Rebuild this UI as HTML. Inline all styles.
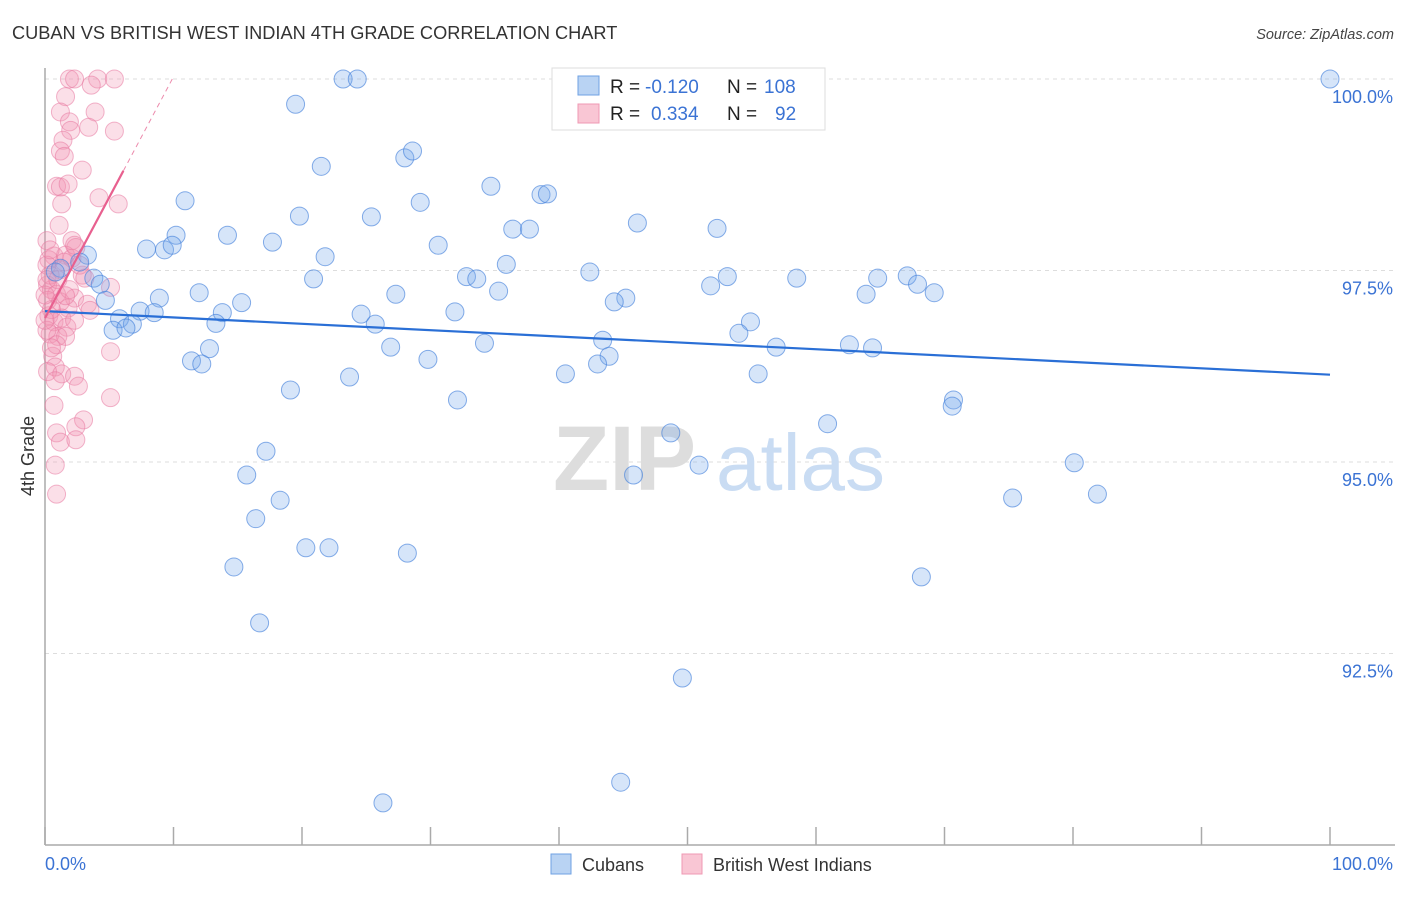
<!DOCTYPE html>
<html><head><meta charset="utf-8">
<style>
body{margin:0;background:#fff;font-family:"Liberation Sans",sans-serif;}
svg text{font-family:"Liberation Sans",sans-serif;}
</style></head>
<body>
<svg id="chart" width="1406" height="892" viewBox="0 0 1406 892" xmlns="http://www.w3.org/2000/svg">
<text x="12" y="39" font-size="18.2" fill="#333">CUBAN VS BRITISH WEST INDIAN 4TH GRADE CORRELATION CHART</text>
<text x="1394" y="39" font-size="14.5" fill="#444" font-style="italic" text-anchor="end">Source: ZipAtlas.com</text>
<g id="grid"></g>
<g>
<text x="553" y="490" font-size="92" fill="#ddd" font-family="Liberation Serif, serif" font-weight="bold">ZIP</text>
<text x="716" y="490" font-size="80" fill="#c9dcf3">atlas</text>
</g>
<line x1="45" y1="68" x2="45" y2="845" stroke="#aaa" stroke-width="1.5"/>
<line x1="45" y1="845" x2="1395" y2="845" stroke="#aaa" stroke-width="1.5"/>
<g id="ticks"></g>
<g id="ylabels"></g>
<text transform="translate(34,456) rotate(-90)" font-size="18" fill="#333" text-anchor="middle">4th Grade</text>
<text x="45" y="870" font-size="18" fill="#3b73d4">0.0%</text>
<text x="1393" y="870" font-size="18" fill="#3b73d4" text-anchor="end">100.0%</text>
<g id="pinkpts"></g>
<g id="bluepts"></g>
<g id="trends"></g>
<g>
<rect x="552" y="68" width="273" height="62" fill="#fff" stroke="#ddd"/>
<rect x="578" y="76" width="21" height="19" fill="#b9d3f3" stroke="#6fa2e3"/>
<rect x="578" y="104" width="21" height="19" fill="#f9c6d4" stroke="#ef98b3"/>
<text x="610" y="93" font-size="19" fill="#222">R =</text>
<text x="645" y="93" font-size="19" fill="#3b73d4">-0.120</text>
<text x="727" y="93" font-size="19" fill="#222">N =</text>
<text x="764" y="93" font-size="19" fill="#3b73d4">108</text>
<text x="610" y="120" font-size="19" fill="#222">R =</text>
<text x="651" y="120" font-size="19" fill="#3b73d4">0.334</text>
<text x="727" y="120" font-size="19" fill="#222">N =</text>
<text x="775" y="120" font-size="19" fill="#3b73d4">92</text>
</g>
<g>
<rect x="551" y="854" width="20" height="20" fill="#b9d3f3" stroke="#6fa2e3"/>
<text x="582" y="871" font-size="18" fill="#333">Cubans</text>
<rect x="682" y="854" width="20" height="20" fill="#f9c6d4" stroke="#ef98b3"/>
<text x="713" y="871" font-size="18" fill="#333">British West Indians</text>
</g>
</svg>
<script>
const yTicks=[100,97.5,95,92.5];
const yTickLabels=["100.0%","97.5%","95.0%","92.5%"];
const xTicks=[0,10,20,30,40,50,60,70,80,90,100];
const cubanX=[100,23.2,24.3,19.5,21.5,28.0,28.6,34.7,10.9,19.8,25.4,29.2,38.6,39.1,46.1,52.3,36.4,37.7,10.2,14.2,7.9,9.3,9.9,17.7,21.8,30.6,35.9,3.3,2.7,1.2,0.8,3.8,4.3,4.7,20.9,32.8,33.6,42.4,53.1,58.5,64.8,67.1,67.9,69.2,63.9,51.8,35.3,27.3,12.0,8.9,15.3,45.2,44.3,7.4,8.5,5.8,6.8,5.3,6.3,13.8,13.3,24.6,25.7,31.9,54.9,54.0,26.9,34.2,43.4,43.9,43.0,56.9,62.6,64.4,12.8,11.4,12.2,29.8,40.5,55.5,23.7,19.1,32.1,70.7,70.6,60.9,48.7,17.2,50.9,45.8,80.1,15.7,18.3,75.3,81.9,16.4,20.3,22.1,28.2,14.7,68.2,16.7,49.6,44.8,26.3];
const cubanY=[100,100,100,99.67,98.86,98.97,99.06,98.6,98.41,98.21,98.2,98.39,98.49,98.5,98.12,98.05,98.04,98.04,97.96,97.96,97.78,97.77,97.83,97.87,97.68,97.83,97.58,97.7,97.61,97.53,97.48,97.4,97.32,97.11,97.39,97.42,97.39,97.48,97.42,97.4,97.4,97.43,97.32,97.21,97.19,97.3,97.23,97.19,97.21,97.14,97.08,97.14,97.09,96.97,96.95,96.87,96.8,96.72,96.75,96.95,96.81,96.93,96.8,96.96,96.83,96.68,96.5,96.55,96.59,96.38,96.28,96.5,96.53,96.49,96.48,96.32,96.28,96.34,96.15,96.15,96.11,95.94,95.81,95.81,95.73,95.5,95.38,95.14,94.96,94.83,94.99,94.83,94.5,94.53,94.58,94.26,93.88,93.88,93.81,93.63,93.5,92.9,92.18,90.82,90.55];
const bwiX=[1.9,2.3,4.1,5.4,3.6,1.6,3.9,1.2,1.9,2.0,3.4,5.4,1.4,1.2,1.5,2.9,0.9,1.2,1.8,4.2,1.3,5.7,1.1,2.1,2.4,0.7,0.3,1.6,2.1,2.3,1.2,2.9,5.1,0.2,0.5,0.9,2.3,3.3,0.2,1.2,1.8,0.3,0.7,1.3,1.7,0.4,1.0,1.6,5.1,0.6,0.8,0.2,1.3,2.3,0.8,2.6,5.1,0.7,3.0,2.4,0.9,1.2,2.4,0.8,0.9,0.15,0.4,0.15,0.5,0.15,0.9,1.5,1.0,1.9,2.7,0,0,1.6,3.1,2.3,3.5,0.5,0.15,0.4];
const bwiY=[100,100,100,100,99.92,99.77,99.57,99.57,99.44,99.33,99.37,99.32,99.2,99.06,98.99,98.81,98.6,98.59,98.63,98.45,98.37,98.37,98.09,97.89,97.8,97.69,97.64,97.7,97.66,97.83,97.51,97.44,97.28,97.31,97.25,97.19,97.14,97.06,97.11,97.09,97.01,96.91,96.83,96.88,96.76,96.67,96.64,96.64,96.44,96.38,96.24,96.18,96.15,96.12,96.06,95.99,95.84,95.74,95.55,95.46,95.38,95.26,95.29,94.96,94.58,97.57,97.44,97.38,96.99,96.72,96.53,97.61,97.38,97.25,97.57,97.18,96.85,97.17,97.4,96.85,96.98,96.49,97.89,97.77];
const cubanTrend=[96.97,96.14];
const bwiTrend=[96.88,0.315];
const NS="http://www.w3.org/2000/svg";
const xs=v=>45+v*12.85;
const ys=v=>79+(100-v)*76.6;
function mk(tag,attrs,parent){const e=document.createElementNS(NS,tag);for(const k in attrs)e.setAttribute(k,attrs[k]);parent.appendChild(e);return e;}
const grid=document.getElementById('grid'),ylab=document.getElementById('ylabels'),ticks=document.getElementById('ticks');
yTicks.forEach((t,i)=>{
  const l=mk('line',{x1:45,x2:1395,y1:ys(t),y2:ys(t),stroke:'#ddd','stroke-dasharray':'4,4'},grid);
  
  
  const tx=mk('text',{x:1393,y:ys(t)+24,'font-size':18,fill:'#3b73d4','text-anchor':'end'},ylab);
  tx.textContent=yTickLabels[i];
  
  
});
xTicks.forEach(t=>{
  const l=mk('line',{x1:xs(t),x2:xs(t),y1:827,y2:845,stroke:'#aaa','stroke-width':1.5},ticks);
  
  
});
const bp=document.getElementById('pinkpts');
bwiX.forEach((x,i)=>{
  const c=mk('circle',{cx:xs(x),cy:ys(bwiY[i]),r:9,fill:'rgba(243,150,180,0.3)',stroke:'rgba(232,120,160,0.55)','stroke-width':1},bp);
  
  
});
const cp=document.getElementById('bluepts');
cubanX.forEach((x,i)=>{
  const c=mk('circle',{cx:xs(x),cy:ys(cubanY[i]),r:9,fill:'rgba(120,170,235,0.3)',stroke:'rgba(70,130,220,0.65)','stroke-width':1},cp);
  
  
});
const tr=document.getElementById('trends');
const bl=mk('line',{x1:xs(0),y1:ys(cubanTrend[0]),x2:xs(100),y2:ys(cubanTrend[1]),stroke:'#2a6fd6','stroke-width':2.2},tr);


const xEnd=6.1,xTop=(100-bwiTrend[0])/bwiTrend[1];
const pl=mk('line',{x1:xs(0),y1:ys(bwiTrend[0]),x2:xs(xEnd),y2:ys(bwiTrend[0]+bwiTrend[1]*xEnd),stroke:'#e8608f','stroke-width':2.2},tr);


const pd=mk('line',{x1:xs(xEnd),y1:ys(bwiTrend[0]+bwiTrend[1]*xEnd),x2:xs(xTop),y2:ys(100),stroke:'#ec8aac','stroke-width':1,'stroke-dasharray':'5,4'},tr);


</script>
</body></html>
